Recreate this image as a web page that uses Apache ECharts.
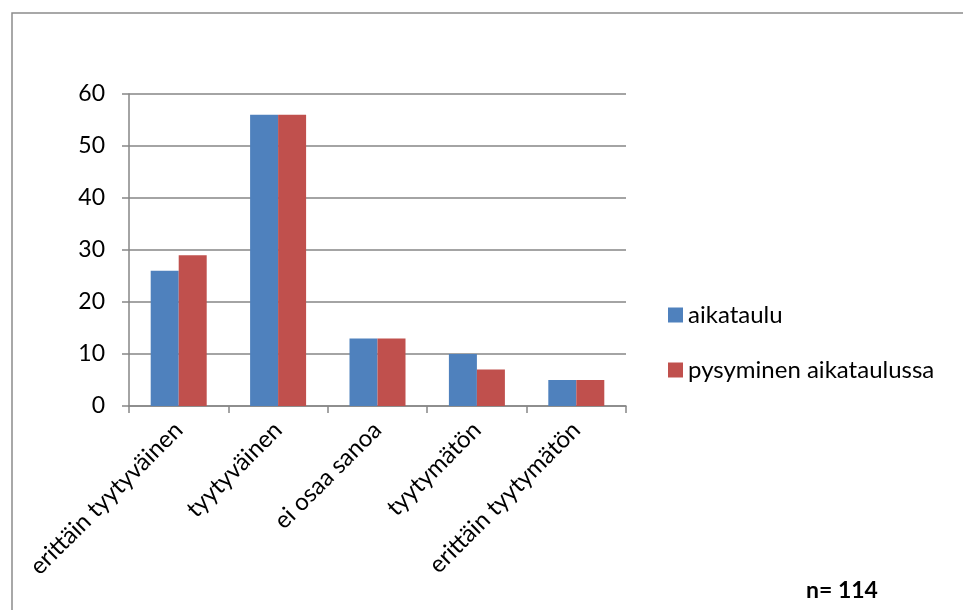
<!DOCTYPE html>
<html>
<head>
<meta charset="utf-8">
<script src="https://cdn.jsdelivr.net/npm/echarts@6/dist/echarts.min.js"></script>
<style>
  html, body { margin: 0; padding: 0; background: #fff; }
  #chart { width: 963px; height: 610px; }
</style>
</head>
<body>
<div id="chart"></div>
<script>
const categories = ['erittäin tyytyväinen', 'tyytyväinen', 'ei osaa sanoa', 'tyytymätön', 'erittäin tyytymätön']
const seriesNames = ['aikataulu', 'pysyminen aikataulussa']
const aikataulu = [26, 56, 13, 10, 5]
const pysyminen = [29, 56, 13, 7, 5]
const yTicks = { min: 0, max: 60, interval: 10 }
const footnote = 'n= 114'

const font = 'Lato, "Open Sans", sans-serif'
const chart = echarts.init(document.getElementById('chart'))

chart.setOption({
  animation: false,
  textStyle: { fontFamily: font },
  graphic: [
    {
      type: 'rect',
      shape: { x: 12, y: 13, width: 1000, height: 700 },
      style: { fill: 'none', stroke: '#8c8c8c', lineWidth: 1.5 },
      silent: true
    },
    {
      type: 'text',
      left: 806,
      top: 579,
      style: { text: footnote, font: 'bold 23px ' + font, fill: '#000' }
    }
  ],
  legend: {
    orient: 'vertical',
    left: 663,
    top: 298,
    itemWidth: 15,
    itemHeight: 15,
    itemGap: 31,
    icon: 'rect',
    textStyle: { fontSize: 24, lineHeight: 24, color: '#000', fontFamily: font }
  },
  grid: { left: 129, right: 337, top: 94, bottom: 204 },
  xAxis: {
    type: 'category',
    data: categories,
    axisLine: { lineStyle: { color: '#868686', width: 1.5 } },
    axisTick: { show: true, length: 7, lineStyle: { color: '#868686', width: 1.5 } },
    axisLabel: { rotate: 45, fontSize: 24, color: '#000', margin: 20, interval: 0 }
  },
  yAxis: {
    type: 'value',
    min: yTicks.min,
    max: yTicks.max,
    interval: yTicks.interval,
    axisLine: { show: true, lineStyle: { color: '#868686', width: 1.5 } },
    axisTick: { show: true, length: 7, lineStyle: { color: '#868686', width: 1.5 } },
    splitLine: { lineStyle: { color: '#868686', width: 1.5 } },
    axisLabel: { fontSize: 23, color: '#000', margin: 24 }
  },
  series: [
    {
      name: seriesNames[0],
      type: 'bar',
      data: aikataulu,
      barWidth: 28,
      barGap: '0%',
      itemStyle: { color: '#4F81BD' }
    },
    {
      name: seriesNames[1],
      type: 'bar',
      data: pysyminen,
      barWidth: 28,
      itemStyle: { color: '#C0504D' }
    }
  ]
})
</script>
</body>
</html>
